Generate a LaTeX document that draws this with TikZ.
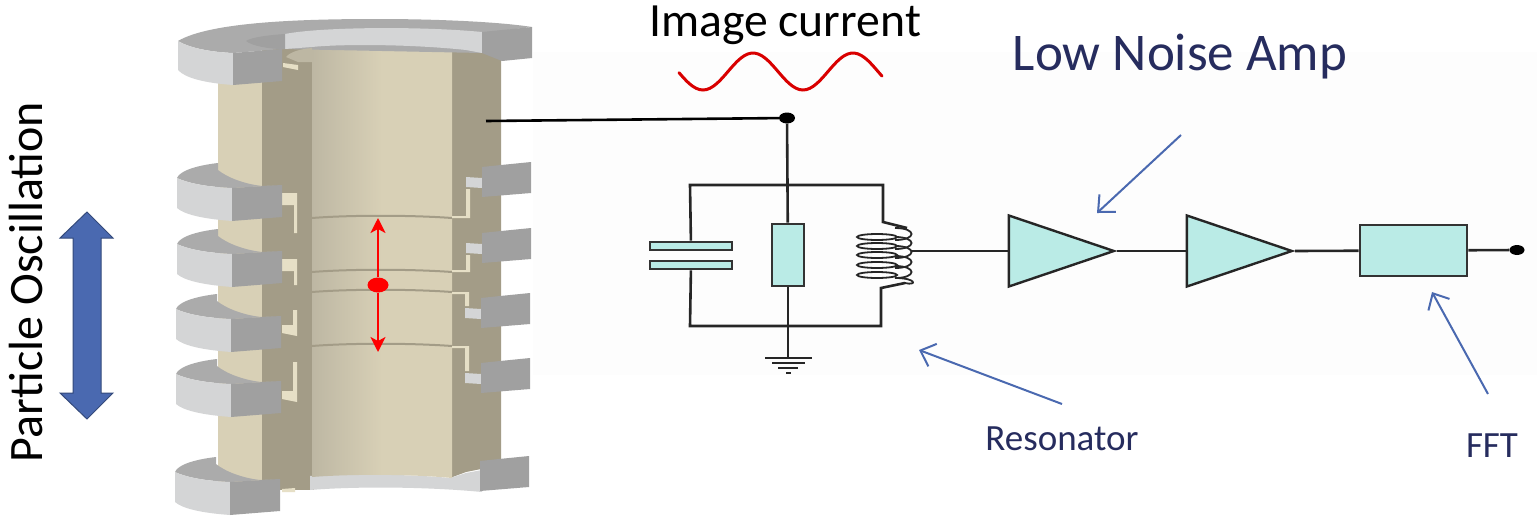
\documentclass[tikz,border=0pt]{standalone}
\usepackage{fontspec}
\setmainfont{Carlito}
\usepackage{tikz}
\usetikzlibrary{arrows.meta, shapes.geometric}
\definecolor{teal1}{HTML}{BAEBE6}
\definecolor{navy1}{HTML}{262C5E}
\definecolor{blue1}{HTML}{4A69B0}
\definecolor{gray1}{HTML}{A0A0A0}
\definecolor{gray2}{HTML}{D4D5D6}
\definecolor{gray3}{HTML}{ABABAB}
\definecolor{tan1}{HTML}{D8D0B6}
\definecolor{tan2}{HTML}{BDB7A3}
\definecolor{tan3}{HTML}{E6DFC6}
\definecolor{taupe}{HTML}{A39C87}
\tikzset{
    wire/.style={draw=black!85, line width=2.6pt},
    part/.style={draw=black!80, fill=teal1, line width=2.6pt, rectangle, inner sep=0pt},
    amp/.style={draw=black!85, fill=teal1, line width=2.4pt, isosceles triangle, isosceles triangle stretches,
        minimum width=71pt, minimum height=105pt, inner sep=0pt, anchor=apex},
    dot/.style={ellipse, fill=black, inner sep=0pt},
    note/.style={blue1, line width=2pt, -{Straight Barb[length=13pt,width=24pt]}},
    oscil/.style={red, line width=2.2pt, -{Stealth[length=15pt,width=15pt,inset=4pt]}},
    lbl/.style={inner sep=0pt, text=navy1}
}
\begin{document}
\begin{tikzpicture}[x=1pt, y=-1pt]
    \useasboundingbox (0, 0) rectangle (1537, 520);
    \fill[fill=white] (0, 0) rectangle (1537, 520);
    \fill[fill=black!0.8] (533, 52) rectangle (1537, 375);

    % tube behind the flanges
    \fill[fill=tan1] (218, 80) rectangle (264, 490);
    \fill[fill=taupe] (262, 45) rectangle (314, 490);
    \fill[fill=taupe] (450, 45) -- (501, 45) -- (501, 465) -- (466, 472) -- (450, 478) -- cycle;
    % bottom ring
    \fill[fill=gray2] (310, 476) .. controls (350, 474) and (410, 474) .. (450, 478)
        -- (466, 473) -- (482, 470) -- (482, 492)
        .. controls (430, 487) and (360, 486) .. (310, 490) -- cycle;
    % bore
    \shade[left color=tan2, right color=tan1, middle color=tan1]
        (312, 48) .. controls (350, 45) and (410, 46) .. (452, 50)
        -- (452, 478) .. controls (410, 474) and (350, 474) .. (312, 477) -- cycle;

    % seams in the bore
    \foreach \sy in {218, 272, 292, 346}
        \draw[taupe, line width=2pt] (312, \sy) .. controls (350, \sy-3) and (410, \sy-3) .. (452, \sy);

    % slots, upper two flanges
    \foreach \ty/\by in {193/233, 259/285}
        \fill[fill=tan3] (282, \ty) -- (297, \ty) -- (297, \by) -- (294, \by) -- (294, \ty+12) -- (282, \ty+12) -- cycle;
    \foreach \ty/\sy in {177/218, 243/272} {
        \fill[fill=gray2] (466, \ty) -- (482, \ty+1) -- (482, \ty+11) -- (466, \ty+10) -- cycle;
        \fill[fill=tan3] (466, \ty+12) -- (470, \ty+12) -- (470, \sy) -- (452, \sy) -- (452, \sy-2) -- (466, \sy-2) -- cycle;
    }
    % slots, lower two flanges
    \foreach \ty/\by in {310/336, 362/402}
        \fill[fill=tan3] (293, \ty) -- (297, \ty) -- (297, \by) -- (282, \by-3) -- (282, \by-11) -- (293, \by-11) -- cycle;
    \foreach \ty/\sy in {308/292, 373/346} {
        \fill[fill=gray2] (465, \ty) -- (481, \ty+1) -- (481, \ty+11) -- (465, \ty+10) -- cycle;
        \fill[fill=tan3] (465, \ty-2) -- (469, \ty-2) -- (469, \sy) -- (452, \sy) -- (452, \sy+2) -- (465, \sy+2) -- cycle;
    }

    % middle flanges
    \foreach \dx/\dy in {0/0, 0/66, -1/131, -1/196, -2/294} {
        \begin{scope}[shift={(\dx, \dy)}]
            \fill[fill=gray3] (177, 178) .. controls (180, 170) and (200, 165) .. (218, 163)
                -- (218, 170) .. controls (228, 178) and (245, 184) .. (262, 186)
                -- (282, 185) -- (232, 188) .. controls (210, 187) and (190, 184) .. (177, 178) -- cycle;
            \fill[fill=gray2] (177, 178) .. controls (190, 184) and (210, 187) .. (232, 188)
                -- (232, 221) .. controls (205, 219) and (185, 215) .. (177, 208) -- cycle;
            \fill[fill=gray1] (232, 188) -- (282, 185) -- (282, 217) -- (232, 221) -- cycle;
            \fill[fill=gray1] (482, 167) -- (501, 165) -- (531, 162) -- (531, 193) -- (482, 197) -- cycle;
        \end{scope}
    }

    % top flange
    \fill[fill=gray3] (178, 41) .. controls (210, 22) and (300, 19) .. (377, 19)
        .. controls (440, 19) and (500, 22) .. (532, 27) -- (482, 33) -- (482, 53) -- (282, 49) -- (233, 53)
        .. controls (210, 52) and (190, 48) .. (178, 41) -- cycle;
    \fill[fill=gray2] (285, 34) .. controls (320, 27) and (420, 26) .. (482, 32) -- (482, 53)
        -- (466, 50) .. controls (410, 44) and (340, 44) .. (312, 47) -- (285, 49) -- cycle;
    \fill[fill=gray1] (246, 41) .. controls (252, 37) and (270, 35) .. (285, 34) -- (285, 49)
        -- (282, 49) .. controls (270, 49) and (252, 46) .. (246, 41) -- cycle;
    \fill[fill=gray2] (178, 41) .. controls (190, 48) and (210, 52) .. (233, 53)
        -- (233, 85) .. controls (205, 83) and (185, 78) .. (178, 70) -- cycle;
    \fill[fill=gray1] (233, 53) -- (282, 49) -- (282, 81) -- (233, 85) -- cycle;
    \fill[fill=gray1] (482, 32) -- (532, 27) -- (532, 58) -- (502, 61) -- (482, 53) -- cycle;
    \fill[fill=tan2] (286, 57) .. controls (290, 52) and (300, 49) .. (312, 48) -- (312, 62) -- (298, 62) -- cycle;
    \fill[fill=tan3] (283, 63) -- (298, 65) -- (298, 70) -- (283, 67) -- cycle;

    % bottom ledge
    \fill[fill=tan3] (282, 489) -- (295, 488) -- (295, 492) -- (282, 492) -- cycle;

    % particle and its motion
    \coordinate (ptop) at (378, 218);
    \coordinate (pbot) at (378, 352);
    \node[ellipse, fill=red, inner sep=0pt, minimum width=21pt, minimum height=15pt] (particle) at (378, 285) {};
    \draw[oscil] (particle) -- (ptop);
    \draw[oscil] (particle) -- (pbot);

    % big arrow
    \fill[fill=blue1, draw=blue1!70!black, line width=1pt]
        (87, 212) -- (113, 238) -- (101, 238) -- (101, 393) -- (113, 393) -- (87, 419)
        -- (60, 393) -- (73, 393) -- (73, 238) -- (60, 238) -- cycle;

    % texts
    \node[rotate=90, inner sep=0pt] (partlbl) at (26, 282) {\fontsize{48}{54}\selectfont Particle Oscillation};
    \node[inner sep=0pt] (imglbl) at (785, 25) {\fontsize{47.7}{54}\selectfont Image current};
    \node[lbl] (lnalbl) at (1180, 57) {\fontsize{53}{60}\selectfont Low Noise Amp};
    \node[lbl] (reslbl) at (1062, 439) {\fontsize{37}{44}\selectfont Resonator};
    \node[lbl] (fftlbl) at (1492, 446) {\fontsize{37}{44}\selectfont FFT};

    % image current wave
    \draw[red!85!black, line width=3pt, line cap=round]
        plot[domain=679:882, samples=60, smooth] (\x, {71.5 - 18.5*cos(3.6*(\x-753))});

    % circuit
    \coordinate (tap) at (486, 121);
    \node[dot, minimum width=16pt, minimum height=11pt] (junction) at (787, 118) {};
    \draw[black, line width=2.6pt] (tap) -- (junction);
    \node[part, minimum width=32pt, minimum height=62pt] (resistor) at (788, 255) {};
    \node[part, minimum width=82pt, minimum height=8pt] (plateA) at (691, 246) {};
    \node[part, minimum width=82pt, minimum height=8pt] (plateB) at (691, 265) {};
    \coordinate (railTL) at (690, 185);
    \coordinate (railTR) at (883, 185);
    \coordinate (railBL) at (690, 326);
    \coordinate (railBR) at (881, 326);
    \coordinate (gnd) at (788, 358);
    \draw[wire] (junction) -- (resistor);
    \draw[wire] (resistor) -- (gnd);
    \draw[wire] (plateA) -- (railTL) -- (railTR) -- (883, 222) -- (907, 228);
    \draw[wire] (plateB) -- (railBL) -- (railBR) -- (881, 288) -- (905, 283);

    % ground
    \draw[wire] (765, 358) -- (812, 358);
    \draw[wire] (772, 363) -- (805, 363);
    \draw[wire] (778, 368) -- (798, 368);
    \draw[wire] (786, 373) -- (791, 373);

    % coil
    \foreach \cy in {237, 246, 255, 265, 275} {
        \draw[black!85, line width=1.8pt] (877, \cy) ellipse (20 and 3);
        \draw[black!85, line width=1.8pt] (895, \cy+3) .. controls (917, \cy+3) and (917, \cy-9) .. (895, \cy-9);
    }
    \draw[black!85, line width=1.8pt] (895, 278) .. controls (917, 278) and (917, 286) .. (905, 283);
    \coordinate (coilout) at (911, 251);

    % amps
    \node[amp] (ampA) at (1117, 251) {};
    \node[amp] (ampB) at (1295, 251) {};
    \node[part, minimum width=107pt, minimum height=51pt] (fft) at (1413.5, 250.5) {};
    \node[dot, minimum width=15pt, minimum height=10pt] (out) at (1517, 250) {};
    \draw[wire] (coilout) -- (ampA.lower side);
    \draw[wire] (ampA.apex) -- (ampB.lower side);
    \draw[wire] (ampB.apex) -- (fft);
    \draw[wire] (fft) -- (out);

    % annotation arrows
    \coordinate (lnafrom) at (1181, 135);
    \coordinate (lnato) at (1097, 213);
    \coordinate (resfrom) at (1062, 404);
    \coordinate (resto) at (919, 350);
    \coordinate (fftfrom) at (1488, 394);
    \coordinate (fftto) at (1432, 292);
    \draw[note] (lnafrom) -- (lnato);
    \draw[note] (resfrom) -- (resto);
    \draw[note] (fftfrom) -- (fftto);
\end{tikzpicture}
\end{document}
